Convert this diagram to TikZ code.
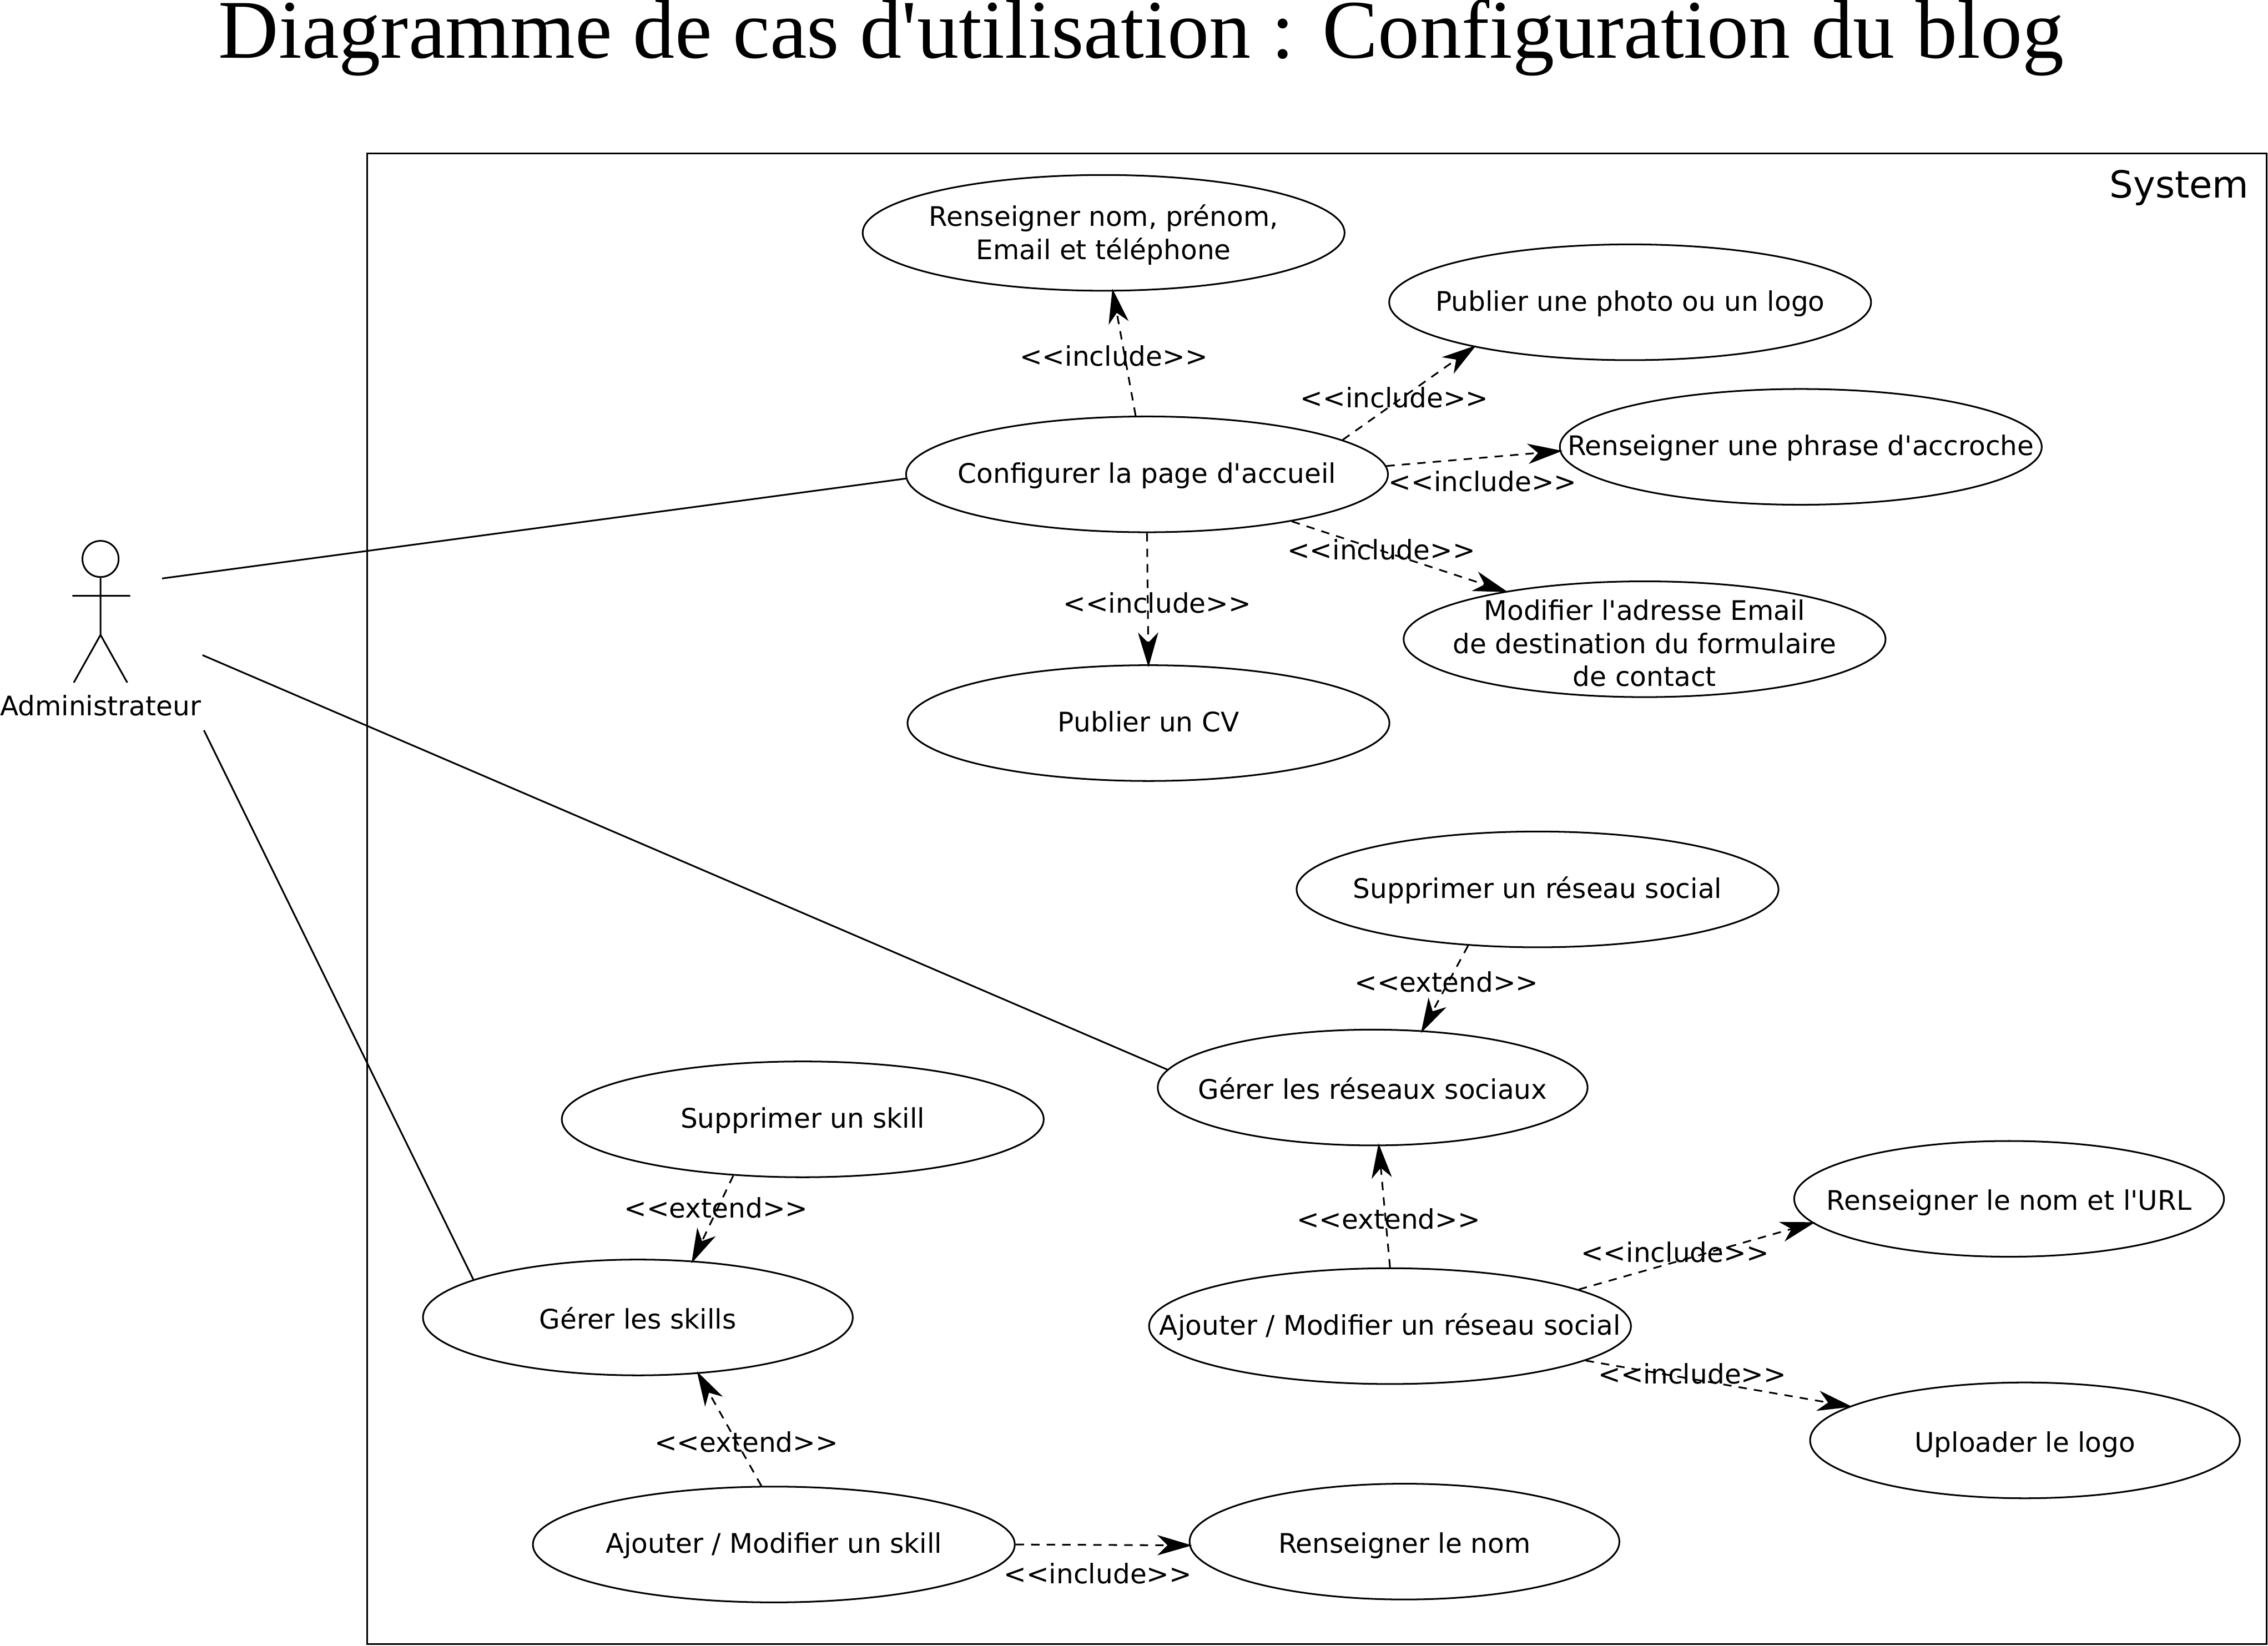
\documentclass[tikz,border=0pt]{standalone}
\usepackage{fontspec}
\setmainfont{Liberation Serif}
\newfontfamily\titlefont{Liberation Serif}
\newfontfamily\bodyfont{DejaVu Sans}
\usetikzlibrary{arrows.meta, positioning, shapes.geometric}
\begin{document}
\begin{tikzpicture}[x=0.01cm, y=-0.01cm,
            usecase/.style={ellipse, draw, line width=0.33pt, minimum width=3.33cm, minimum height=0.80cm, inner sep=-1.2cm, align=center, text height=4.6pt, text depth=1.2pt, font=\bodyfont\fontsize{5.3}{6.5}\selectfont},
            usecasewide/.style={usecase, minimum width=2.97cm, text height=5.7pt},
            usecaselines/.style={usecase, text height=, text depth=},
            arrow/.style={-{Stealth[length=2.4mm, width=1.4mm, inset=0.7mm]}, dash pattern=on 1.65pt off 1.4pt, line width=0.33pt, shorten >=-0.2mm},
            assoc/.style={line width=0.33pt},
            stereo/.style={font=\bodyfont\fontsize{5.3}{6.5}\selectfont, inner sep=0pt}
        ]
            \useasboundingbox (0,0) rectangle (1568,1138);

            \node[font=\fontsize{16.4}{18}\selectfont\titlefont, inner sep=0pt, anchor=base] (title) at (789,40) {Diagramme de cas d'utilisation : Configuration du blog};

            \draw[assoc] (254,106) rectangle (1567,1137);
            \node[anchor=east, inner sep=0pt, font=\bodyfont\fontsize{7.35}{8}\selectfont] (system) at (1555.5,130) {System};

            % actor
            \node[circle, draw, line width=0.33pt, minimum size=0.25cm, inner sep=0pt] (head) at (69.5,386.5) {};
            \coordinate (hip) at (69.5,439);
            \coordinate (armL) at (50,412);
            \coordinate (armR) at (90,412);
            \coordinate (footL) at (51,472);
            \coordinate (footR) at (88,472);
            \draw[assoc] (head.south) -- (hip) (armL) -- (armR) (footL) -- (hip) -- (footR);
            \node[stereo] (admin) at (69.5,488) {Administrateur};
            \coordinate (a1) at (112,400);
            \coordinate (a2) at (140,453);
            \coordinate (a3) at (141,505);

            % use cases
            \node[usecaselines] (nom) at (763,161) {\rule{0pt}{5pt}Renseigner nom, prénom,\\Email et téléphone};
            \node[usecase] (photo) at (1127,209) {Publier une photo ou un logo};
            \node[usecase] (accueil) at (793,328) {Configurer la page d'accueil};
            \node[usecase] (phrase) at (1245,309) {Renseigner une phrase d'accroche};
            \node[usecaselines] (email) at (1137,442) {\rule{0pt}{5.6pt}Modifier l'adresse Email\\de destination du formulaire\\de contact};
            \node[usecase] (cv) at (794,500) {Publier un CV};
            \node[usecase] (supres) at (1063,615) {Supprimer un réseau social};
            \node[usecasewide] (reseaux) at (949,752) {Gérer les réseaux sociaux};
            \node[usecase] (supskill) at (555,774) {Supprimer un skill};
            \node[usecasewide] (url) at (1389,829) {Renseigner le nom et l'URL};
            \node[usecasewide] (skills) at (441,911) {Gérer les skills};
            \node[usecase] (ajres) at (961,917) {Ajouter / Modifier un réseau social};
            \node[usecasewide] (logo) at (1400,996) {Uploader le logo};
            \node[usecase] (ajskill) at (535,1068) {Ajouter / Modifier un skill};
            \node[usecasewide] (renom) at (971,1066) {Renseigner le nom};

            \draw[assoc] (a1) -- (accueil.181);
            \draw[assoc] (a2) -- (reseaux.175);
            \draw[assoc] (a3) -- (skills.167.7);

            \draw[arrow] (accueil.101.3) -- (nom.-81.3);
            \draw[arrow] (accueil.10.6) -- (photo.196);
            \draw[arrow] (accueil.2.1) -- (phrase.181);
            \draw[arrow] (accueil.-18.4) -- (email.161.5);
            \draw[arrow] (accueil.-90) -- (cv.90);
            \draw[arrow] (supres.219.9) -- (reseaux.49.6);
            \draw[arrow] (ajres.90) -- (reseaux.-84);
            \draw[arrow] (ajres.11.7) -- (url.187.6);
            \draw[arrow] (ajres.-10.2) -- (logo.169.9);
            \draw[arrow] (supskill.219.9) -- (skills.46);
            \draw[arrow] (ajskill.102) -- (skills.-43);
            \draw[arrow] (ajskill.0) -- (renom.181);

            \node[stereo] (i1) at (770,246) {<{}<include>{}>};
            \node[stereo] (i2) at (964,275) {<{}<include>{}>};
            \node[stereo] (i3) at (1025,333) {<{}<include>{}>};
            \node[stereo] (i4) at (955,380) {<{}<include>{}>};
            \node[stereo] (i5) at (800,417) {<{}<include>{}>};
            \node[stereo] (x1) at (1000,679) {<{}<extend>{}>};
            \node[stereo] (x2) at (960,843) {<{}<extend>{}>};
            \node[stereo] (i6) at (1158,866) {<{}<include>{}>};
            \node[stereo] (i7) at (1170,950) {<{}<include>{}>};
            \node[stereo] (x3) at (495,835) {<{}<extend>{}>};
            \node[stereo] (x4) at (516,997) {<{}<extend>{}>};
            \node[stereo] (i8) at (759,1088) {<{}<include>{}>};

        \end{tikzpicture}
\end{document}
